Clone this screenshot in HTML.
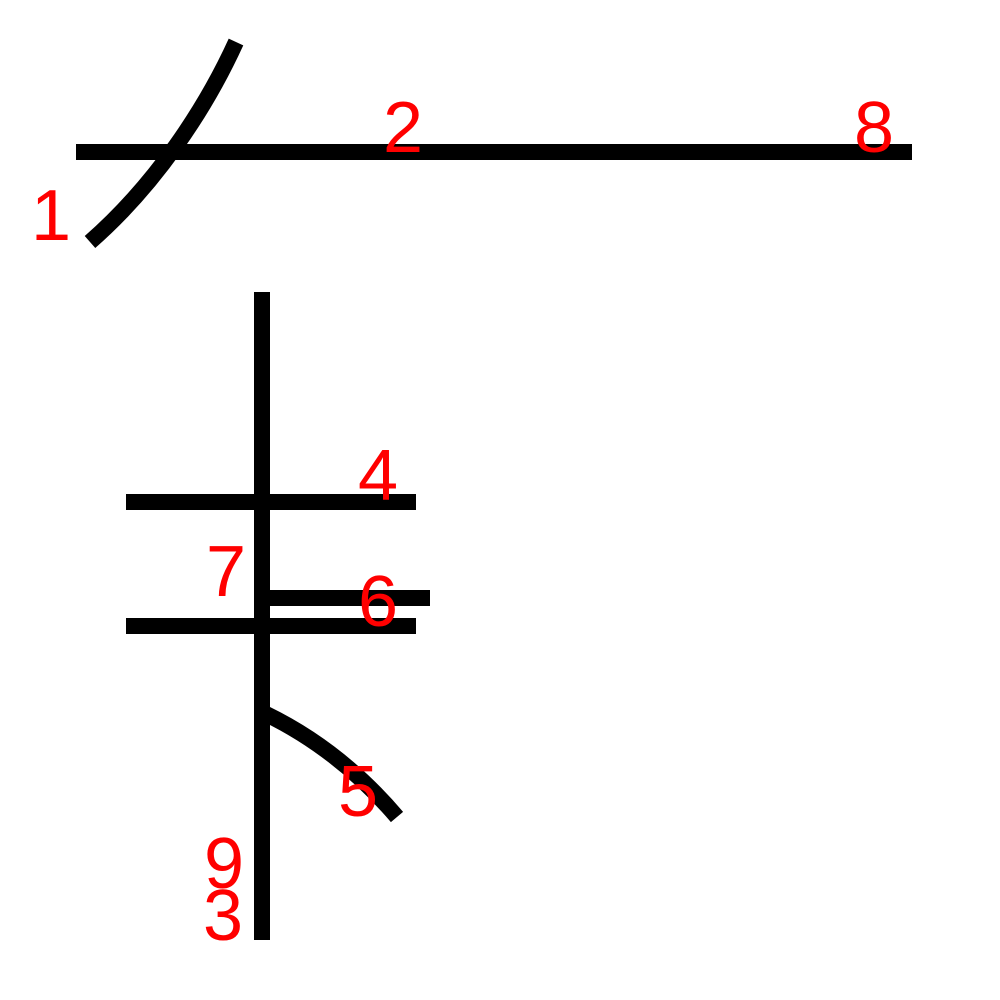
<!DOCTYPE html>
<html><head><meta charset="utf-8"><style>html,body{margin:0;padding:0;background:#fff}svg{display:block}</style></head>
<body>
<svg width="1000" height="1000" viewBox="0 0 1000 1000">
<g stroke="#000" stroke-width="16" fill="none">
<path d="M236,42 C205,110 155,185 90,242"/>
<path d="M76,152 L912,152"/>
<path d="M262,292 L262,940"/>
<path d="M126,502 L416,502"/>
<path d="M266,714 Q340,750 397,817"/>
<path d="M262,598 L430,598"/>
<path d="M126,626 L416,626"/>
</g>
<g fill="#f00" font-family="Liberation Sans, sans-serif" font-size="72" text-anchor="middle">
<text x="51" y="240">1</text>
<text x="403" y="152">2</text>
<text x="874" y="152">8</text>
<text x="378" y="500">4</text>
<text x="226" y="596">7</text>
<text x="378" y="626">6</text>
<text x="358" y="816">5</text>
<text x="224" y="888">9</text>
<text x="223" y="940">3</text>
</g>
</svg>
</body></html>
